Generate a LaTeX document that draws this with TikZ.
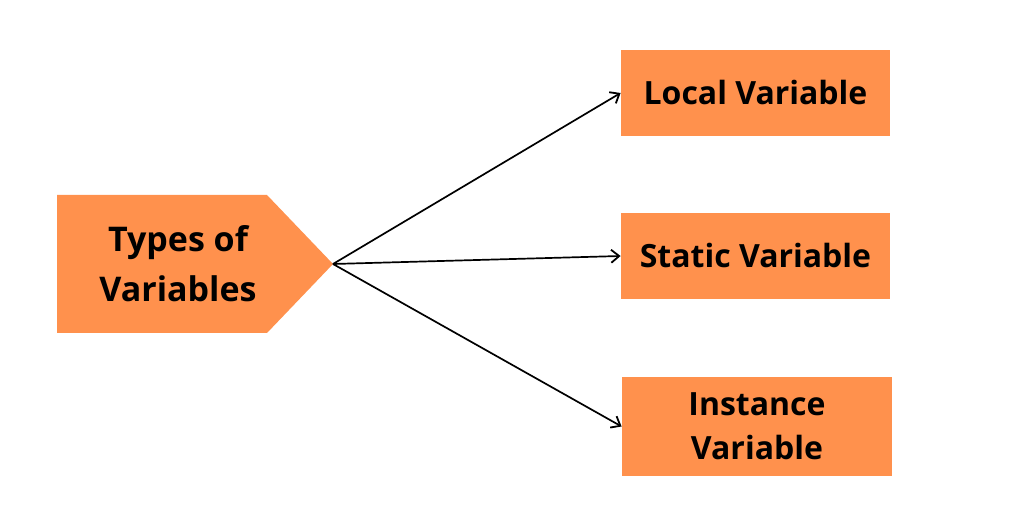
\documentclass[tikz,border=0pt]{standalone}
\usepackage{fontspec}
\setmainfont{Open Sans}
\usetikzlibrary{arrows.meta}

\definecolor{boxorange}{HTML}{FF914D}

\begin{document}
\begin{tikzpicture}[x=0.5pt, y=-0.5pt,
  every node/.style={font=\bfseries\fontsize{16}{22}\selectfont, align=center},
  varbox/.style={fill=boxorange, minimum width=134.5pt, minimum height=43pt, inner sep=0pt},
  link/.style={line width=0.85pt, -{Straight Barb[length=4pt, width=6.5pt, line width=0.9pt]}}]
  \useasboundingbox (0,0) rectangle (1024,529);
  \fill[boxorange] (57,195) -- (267,195) -- (333,264) -- (267,333) -- (57,333) -- cycle;
  \coordinate (tip) at (333,264);
  \node[font=\bfseries\fontsize{17}{25}\selectfont] (types) at (178,264) {Types of\\Variables};
  \node[varbox] (local) at (755.5,93) {Local Variable};
  \node[varbox] (static) at (755.5,256) {Static Variable};
  \node[varbox, minimum width=135pt, minimum height=49.5pt] (instance) at (757,426.5) {Instance\\Variable};
  \draw[link] (tip) -- (local.west);
  \draw[link] (tip) -- (static.west);
  \draw[link] (tip) -- (instance.west);
\end{tikzpicture}
\end{document}
